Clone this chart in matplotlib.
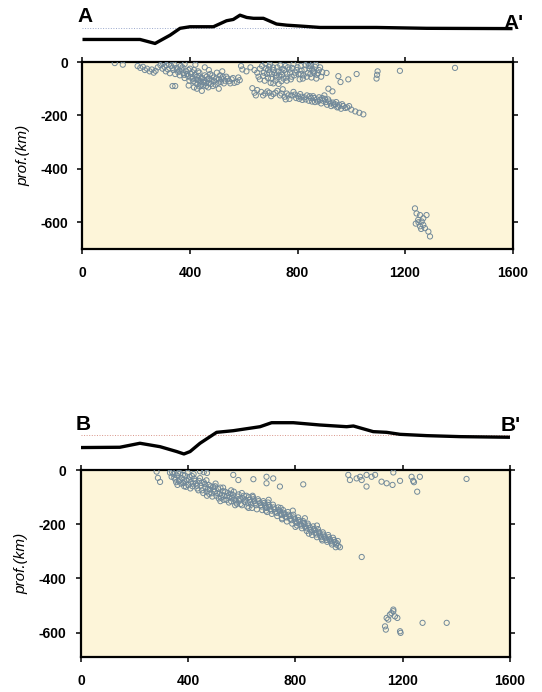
import matplotlib
matplotlib.use("Agg")
import matplotlib.pyplot as plt

plt.rcParams['font.family'] = ['Liberation Sans', 'DejaVu Sans']
plt.rcParams['axes.unicode_minus'] = False

# topography along the profiles (distance km, elevation km)
topo_a_x = [0, 214, 270, 326, 363, 400, 487, 536, 561, 586, 611, 636, 673, 722, 760, 809, 884, 970, 1094, 1280, 1600]
topo_a_z = [-4.1, -4.1, -5.5, -2.6, -0.2, 0.35, 0.35, 2.45, 2.9, 4.4, 3.6, 3.3, 3.3, 1.3, 0.9, 0.6, 0.1, 0.1, 0.1, -0.2, -0.3]
topo_b_x = [0, 145, 220, 295, 357, 384, 407, 444, 506, 568, 668, 711, 792, 891, 991, 1016, 1090, 1140, 1190, 1290, 1414, 1600]
topo_b_z = [-4.4, -4.3, -2.9, -4.1, -5.8, -6.65, -5.8, -2.9, 0.93, 1.5, 2.9, 4.3, 4.3, 3.5, 2.9, 3.15, 1.17, 0.93, 0.23, -0.23, -0.58, -0.8]

# hypocentres profile A (distance km, depth km)
eq_a = [
    (120, -4), (150, -10), (205, -15), (215, -22), (225, -18), (232, -30), (240, -25), (250, -35), (258, -28), (265, -40),
    (272, -33), (280, -20), (290, -12), (298, -25), (305, -18), (310, -35), (318, -28), (325, -42), (330, -15), (338, -30),
    (345, -45), (350, -22), (356, -38), (362, -50), (368, -28), (375, -42), (380, -60), (386, -35), (392, -52), (398, -70),
    (404, -45), (410, -62), (415, -30), (420, -78), (425, -55), (430, -68), (435, -40), (440, -85), (445, -60), (450, -75),
    (455, -50), (460, -90), (465, -65), (470, -80), (475, -45), (480, -70), (488, -58), (495, -85), (500, -40), (508, -65),
    (515, -75), (522, -55), (530, -70), (540, -62), (550, -80), (560, -60), (575, -75), (585, -68), (335, -90), (345, -90),
    (444, -108), (507, -100), (590, -15), (595, -28), (420, -10), (380, -8), (455, -20), (365, -15), (400, -25), (430, -35),
    (470, -30), (395, -88), (415, -95), (485, -90), (520, -35),
    (300, -5), (312, -12), (322, -8), (335, -22), (342, -10), (352, -28), (360, -32), (372, -20), (378, -48), (388, -45),
    (394, -30), (402, -58), (408, -38), (412, -72), (418, -48), (424, -65), (428, -82), (432, -52), (438, -72), (442, -62),
    (448, -88), (452, -68), (458, -78), (462, -55), (468, -95), (472, -62), (478, -82), (483, -50), (490, -72), (498, -62),
    (505, -78), (512, -50), (518, -62), (526, -80), (535, -55), (545, -72), (555, -65), (565, -78), (580, -58), (426, -100),
    (436, -92),
    (610, -35), (625, -20), (640, -30), (655, -55), (668, -15), (675, -40), (682, -25), (690, -60), (698, -10), (705, -45),
    (712, -30), (718, -70), (725, -20), (732, -50), (740, -38), (748, -62), (755, -15), (762, -45), (770, -28), (778, -55),
    (785, -8), (792, -40), (800, -20), (808, -65), (815, -32), (822, -50), (830, -12), (838, -42), (845, -25), (852, -58),
    (858, -35), (865, -18), (872, -48), (880, -30), (888, -55), (700, -78), (730, -82), (760, -70), (680, -5), (840, -5),
    (695, -40), (720, -50), (745, -25), (775, -65), (812, -45), (850, -15), (870, -62), (690, -30),
    (650, -40), (660, -25), (672, -52), (686, -45), (694, -18), (702, -62), (708, -20), (715, -42), (722, -58), (728, -35),
    (736, -12), (742, -48), (750, -30), (758, -58), (765, -20), (772, -40), (780, -22), (788, -50), (796, -30), (804, -45),
    (812, -15), (820, -62), (826, -28), (834, -55), (842, -15), (848, -45), (855, -28), (862, -40), (868, -10), (876, -42),
    (884, -20), (892, -38), (660, -65), (678, -70), (710, -80), (740, -72),
    (632, -98), (640, -115), (645, -125), (665, -112), (680, -118), (695, -115), (710, -120), (725, -108), (735, -125), (745, -102),
    (752, -130), (760, -118), (770, -138), (778, -125), (785, -112), (795, -135), (802, -128), (810, -120), (818, -142), (825, -132),
    (835, -125), (842, -145), (850, -135), (858, -128), (865, -150), (872, -140), (880, -132), (888, -155), (895, -145), (902, -138),
    (910, -160), (918, -148), (925, -165), (932, -152), (940, -158), (948, -170), (955, -160), (962, -175), (970, -165), (985, -170),
    (1000, -178), (1015, -185), (1030, -190), (1045, -196), (930, -110), (915, -100),
    (650, -105), (672, -125), (688, -110), (702, -128), (718, -115), (740, -118), (756, -140), (766, -125), (790, -122), (806, -138),
    (814, -130), (830, -140), (846, -128), (854, -148), (862, -135), (876, -148), (884, -142), (892, -135), (906, -150), (914, -140),
    (922, -155), (936, -162), (944, -150), (952, -168), (966, -158), (978, -172), (992, -165), (900, -125),
    (908, -41), (952, -53), (989, -65), (1020, -45), (1094, -62), (1098, -35), (1096, -48), (1181, -33), (1386, -22), (960, -75),
    (1237, -548), (1243, -567), (1256, -573), (1249, -591), (1262, -597), (1268, -610), (1280, -573), (1274, -622), (1287, -635),
    (1293, -653), (1256, -615), (1268, -585), (1240, -605), (1250, -600), (1260, -625),
]

# hypocentres profile B (distance km, depth km)
eq_b = [
    (282, -6), (287, -29), (295, -44), (444, -5), (458, -8), (470, -11),
    (332, -10), (338, -25), (345, -15), (352, -35), (358, -20), (365, -42), (370, -12), (376, -30), (382, -48), (388, -20),
    (394, -38), (400, -55), (405, -25), (410, -45), (416, -60), (422, -32), (428, -50), (434, -68), (440, -40), (446, -58),
    (452, -75), (458, -45), (464, -65), (469, -80), (360, -55), (385, -60), (420, -15), (398, -10),
    (476, -55), (481, -72), (487, -86), (493, -62), (499, -80), (505, -95), (511, -70), (517, -88), (523, -102), (529, -78),
    (535, -96), (543, -110), (548, -85), (554, -100), (560, -115), (566, -92), (572, -108), (578, -120), (584, -98), (590, -112),
    (596, -125), (605, -105), (611, -118), (617, -95), (623, -122), (629, -110), (635, -128), (641, -100), (647, -115), (653, -130),
    (660, -108), (668, -122), (674, -135), (680, -115), (686, -128), (692, -140), (698, -120), (704, -135), (710, -150), (716, -128),
    (722, -145), (730, -158), (736, -138), (742, -152), (748, -165), (754, -148), (760, -162), (766, -175), (772, -155), (778, -170),
    (785, -185), (792, -165), (798, -180), (804, -195), (810, -175), (816, -190), (822, -205), (828, -188), (834, -200), (840, -215),
    (846, -198), (854, -212), (860, -228), (866, -208), (872, -222), (878, -238), (884, -218), (890, -232), (896, -248), (902, -230),
    (908, -245), (916, -258), (922, -240), (928, -255), (934, -268), (940, -250), (946, -265), (952, -275), (958, -262), (966, -285),
    (500, -60), (530, -65), (560, -75), (600, -85), (640, -95), (700, -110), (745, -140), (790, -150), (835, -178), (880, -205),
    (470, -95), (520, -115), (575, -130), (625, -140), (690, -150), (750, -178), (800, -210), (850, -235), (900, -260), (950, -285),
    (340, -8), (348, -28), (355, -45), (362, -12), (368, -38), (374, -50), (380, -18), (386, -42), (392, -62), (402, -35),
    (408, -68), (414, -22), (418, -50), (426, -40), (432, -58), (438, -75), (444, -30), (450, -48), (456, -85), (462, -52),
    (468, -38), (474, -70), (478, -88), (484, -60), (490, -98), (496, -72), (502, -50), (508, -85), (514, -105), (520, -65),
    (526, -92), (532, -110), (538, -80), (546, -95), (552, -120), (558, -88), (564, -102), (570, -80), (576, -112), (582, -125),
    (588, -90), (594, -105), (600, -130), (608, -95), (614, -110), (620, -135), (626, -100), (632, -118), (638, -140), (644, -108),
    (650, -122), (656, -145), (662, -115), (670, -130), (676, -148), (682, -122), (688, -135), (694, -155), (700, -130), (706, -145),
    (712, -162), (718, -138), (724, -155), (732, -170), (738, -148), (744, -162), (750, -182), (756, -158), (762, -172), (768, -190),
    (774, -165), (780, -180), (788, -198), (794, -175), (800, -190), (806, -205), (812, -185), (818, -200), (824, -215), (830, -195),
    (836, -210), (842, -225), (848, -205), (856, -220), (862, -240), (868, -218), (874, -232), (880, -248), (886, -228), (892, -242),
    (898, -255), (904, -238), (912, -252), (918, -265), (924, -248), (930, -262), (936, -275), (944, -258), (954, -270), (960, -280),
    (568, -18), (587, -37), (643, -34), (692, -25), (717, -31), (692, -49), (742, -61), (829, -53),
    (997, -18), (1003, -37), (1028, -31), (1041, -25), (1047, -37), (1065, -18), (1065, -61), (1084, -25), (1097, -18), (1121, -43),
    (1140, -49), (1162, -55), (1165, -9), (1190, -40), (1233, -25), (1239, -40), (1242, -45), (1264, -25), (1254, -80), (1438, -33),
    (1047, -321),
    (1140, -546), (1152, -534), (1165, -521), (1171, -540), (1180, -546), (1146, -552), (1134, -577), (1137, -589), (1158, -528),
    (1165, -515), (1190, -595), (1192, -601), (1274, -564), (1364, -564),
]

prof_ticks = [0, 400, 800, 1200, 1600]
depth_ticks = [0, -200, -400, -600]

fig = plt.figure(figsize=(5.42, 6.92), dpi=100)

panels = [
    # main axes rect, topo rect, depth min, topo, quakes, sea-level colour, labels, topo ylim, label y
    ([0.1522, 0.6402, 0.7934, 0.2702], [0.1522, 0.9277, 0.7934, 0.0607], -700,
     (topo_a_x, topo_a_z), eq_a, '#9aa8cc', ('A', "A'"), (-7.8, 6.9), (0.976, 0.966)),
    ([0.1494, 0.0506, 0.7915, 0.2702], [0.1494, 0.3353, 0.7915, 0.0650], -690,
     (topo_b_x, topo_b_z), eq_b, '#d89488', ('B', "B'"), (-8.75, 7.0), (0.387, 0.385)),
]

for rect, trect, dmin, topo, eq, sl_col, labs, tlim, laby in panels:
    ax = fig.add_axes(rect)
    ax.set_facecolor('#fdf5d9')
    xs = [p[0] for p in eq]
    zs = [p[1] for p in eq]
    ax.scatter(xs, zs, s=14, facecolors='none', edgecolors='#71899a', linewidths=0.7, zorder=3)
    ax.set_xlim(0, 1600)
    ax.set_ylim(dmin, 0)
    ax.set_xticks(prof_ticks)
    ax.set_yticks(depth_ticks)
    ax.tick_params(direction='out', length=3.5, width=1.1, top=True, right=True,
                   labelsize=10, pad=7)
    ax.tick_params(axis='x', pad=9)
    for lbl in ax.get_xticklabels() + ax.get_yticklabels():
        lbl.set_fontweight('bold')
    for sp in ax.spines.values():
        sp.set_linewidth(1.6)
    ax.set_ylabel('prof.(km)', fontsize=11, fontstyle='italic')
    ax.yaxis.set_label_coords(-0.122, 0.5)

    tax = fig.add_axes(trect)
    tax.axhline(0, color=sl_col, lw=0.7, ls=':')
    tax.plot(topo[0], topo[1], color='black', lw=2.4, solid_capstyle='butt')
    tax.set_xlim(0, 1600)
    tax.set_ylim(*tlim)
    tax.axis('off')

    fig.text(rect[0] - 0.01, laby[0], labs[0], fontsize=15, fontweight='bold', va='center', ha='left')
    fig.text(rect[0] + rect[2] + 0.02, laby[1], labs[1], fontsize=15, fontweight='bold', va='center', ha='right')

fig.savefig('out.png', dpi=100)
